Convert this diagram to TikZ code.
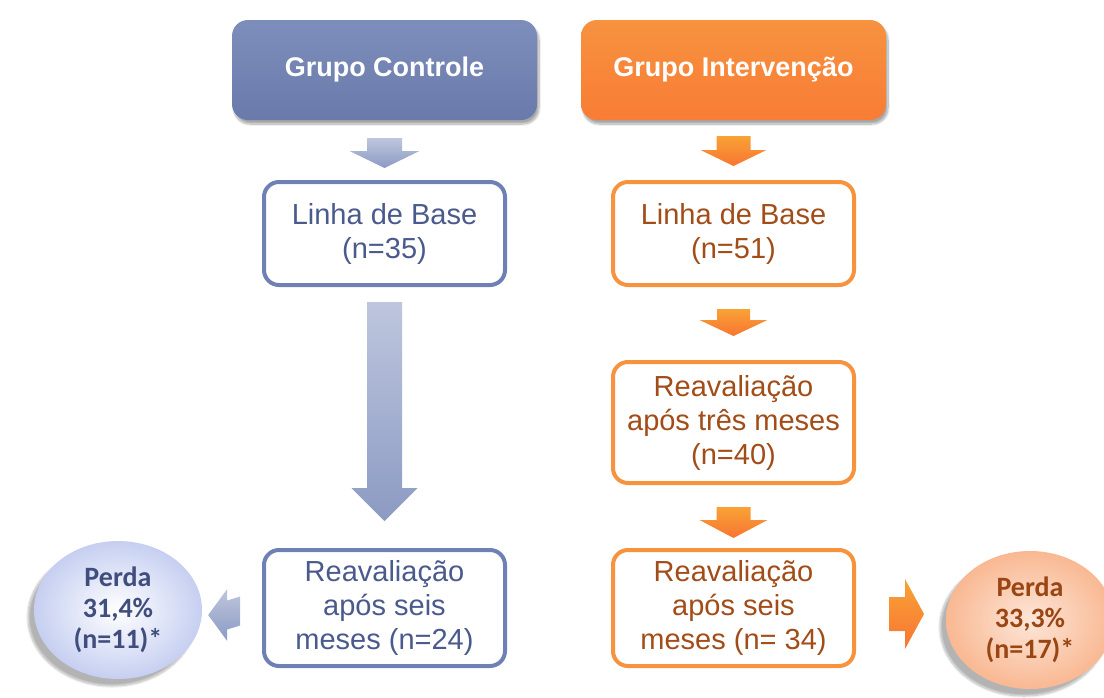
\documentclass[tikz,border=0pt]{standalone}
\usepackage{fontspec}
\setmainfont{Liberation Sans}
\newfontfamily\perdafont{Carlito}
\usetikzlibrary{calc,shapes.geometric,shadows,shadows.blur}

\definecolor{ctrlblue}{HTML}{6F81B4}
\definecolor{ctrltext}{HTML}{4A5A8C}
\definecolor{ctrldark}{HTML}{3F4E7C}
\definecolor{ctrllight}{HTML}{C6CFF1}
\definecolor{intorange}{HTML}{F7923F}
\definecolor{inttext}{HTML}{A24C18}
\definecolor{intdark}{HTML}{9A4614}
\definecolor{intlight}{HTML}{F9B892}

% block arrow pointing down: style, top of shaft, tip, head length, half shaft, half head
\newcommand{\blockdown}[6]{%
  \path[#1] ($(#2)+(-#5,0)$) -- ($(#2)+(#5,0)$) -- ($(#3)+(#5,-#4)$) -- ($(#3)+(#6,-#4)$)
    -- (#3) -- ($(#3)+(-#6,-#4)$) -- ($(#3)+(-#5,-#4)$) -- cycle;}
% block arrow pointing sideways: style, end of shaft, tip, head length (signed), half shaft, half head
\newcommand{\blockside}[6]{%
  \path[#1] ($(#2)+(0,-#5)$) -- ($(#2)+(0,#5)$) -- ($(#3)+(#4,#5)$) -- ($(#3)+(#4,#6)$)
    -- (#3) -- ($(#3)+(#4,-#6)$) -- ($(#3)+(#4,-#5)$) -- cycle;}

\begin{document}
\begin{tikzpicture}[
    x=1pt, y=-1pt,
    header/.style={rounded corners=16pt, minimum width=305pt, minimum height=100pt, inner sep=0pt,
        text=white, font=\fontsize{27}{32}\selectfont\bfseries,
        blur shadow={shadow xshift=2pt, shadow yshift=-4pt, shadow opacity=35, shadow blur steps=10}},
    stage/.style={draw, line width=4pt, rounded corners=15pt, fill=white, minimum width=241pt,
        inner sep=0pt, align=center, font=\fontsize{29}{34}\selectfont},
    loss/.style={ellipse, minimum width=168pt, minimum height=138pt, inner sep=0pt, align=center,
        font=\perdafont\fontsize{28}{31}\selectfont\bfseries,
        blur shadow={shadow xshift=-6pt, shadow yshift=-7pt, shadow opacity=30, shadow blur steps=12}},
    bluearrow/.style={top color=ctrlblue!45, bottom color=ctrlblue!80},
    orangearrow/.style={top color=intorange!85!yellow, bottom color=intorange!80!red}
]
\useasboundingbox (0,0) rectangle (1104,697);

% control group
\node[header, top color=ctrlblue!90!white, bottom color=ctrlblue!95!black] (hctrl) at (384.5,70) {Grupo Controle};
\node[stage, draw=ctrlblue, text=ctrltext, minimum height=103pt] (ctrlbase) at (384.5,233.5) {Linha de Base\\(n=35)};
\node[stage, draw=ctrlblue, text=ctrltext, minimum height=116pt] (ctrlsix) at (384.5,608) {Reavalia\c{c}\~ao\\ap\'os seis\\meses (n=24)};
\node[loss, inner color=white, outer color=ctrllight, text=ctrldark] (ctrlloss) at (118,610) {Perda\\31,4\%\\(n=11)*};

% intervention group
\node[header, top color=intorange, bottom color=intorange!85!red] (hint) at (733.5,70) {Grupo Interven\c{c}\~ao};
\node[stage, draw=intorange, text=inttext, minimum height=103pt] (intbase) at (733.5,233.5) {Linha de Base\\(n=51)};
\node[stage, draw=intorange, text=inttext, minimum height=121pt] (intthree) at (733.5,422.5) {Reavalia\c{c}\~ao\\ap\'os tr\^es meses\\(n=40)};
\node[stage, draw=intorange, text=inttext, minimum height=116pt] (intsix) at (733.5,608) {Reavalia\c{c}\~ao\\ap\'os seis\\meses (n= 34)};
\node[loss, inner color=intlight!35, outer color=intlight, text=intdark] (intloss) at (1030,620) {Perda\\33,3\%\\(n=17)*};

% arrows between the stages
\blockdown{bluearrow}{$(hctrl.south)+(0,18)$}{$(ctrlbase.north)+(0,-12)$}{17}{17.5}{35}
\blockdown{bluearrow}{$(ctrlbase.south)+(0,15)$}{$(ctrlsix.north)+(0,-27)$}{33}{17.5}{33}
\blockside{bluearrow}{$(ctrlsix.west)+(-22,3)$}{$(ctrlloss.east)+(6,5)$}{19}{14.5}{26}
\blockdown{orangearrow}{$(hint.south)+(0,16)$}{$(intbase.north)+(0,-14)$}{16}{17}{33}
\blockdown{orangearrow}{$(intbase.south)+(0,22)$}{$(intthree.north)+(0,-24)$}{16}{16.5}{34}
\blockdown{orangearrow}{$(intthree.south)+(0,22)$}{$(intsix.north)+(0,-10)$}{18}{17}{34}
\blockside{orangearrow}{$(intsix.east)+(33,6)$}{$(intsix.east)+(68,6)$}{-19}{17}{35}
\end{tikzpicture}
\end{document}
